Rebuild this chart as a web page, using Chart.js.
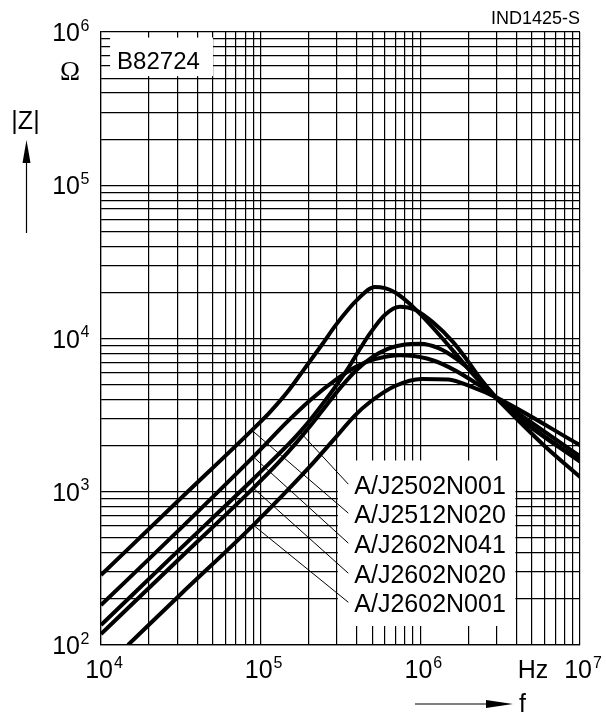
<!DOCTYPE html>
<html><head><meta charset="utf-8">
<script src="https://cdn.jsdelivr.net/npm/chart.js@4.4.1/dist/chart.umd.min.js"></script>
<style>html,body{margin:0;padding:0;background:#fff;} canvas{display:block;}</style>
</head><body>
<canvas id="c" width="606" height="715"></canvas>
<script>
// ---- data (frequency in Hz, |Z| in Ohm) ----
const freq_J2512N020 = [1e4, 3e4, 1e5, 1.14e5, 1.5e5, 1.85e5, 2.4e5, 3e5, 4e5, 5.2e5, 6e5, 7e5, 8.5e5, 1e6, 1.3e6, 1.7e6, 2.2e6, 2.94e6, 4e6, 6e6, 1e7];
const imp_J2512N020  = [286, 860, 2870, 3300, 4600, 6200, 9000, 12500, 17800, 21700, 21300, 19900, 17000, 14400, 10700, 7750, 5650, 4150, 3000, 1990, 1250];

const freq_J2602N041 = [1e4, 3.12e4, 9.21e4, 1.48e5, 2.04e5, 3.05e5, 3.9e5, 5.2e5, 7.46e5, 1.1e6, 1.497e6, 2.423e6, 2.94e6, 1e7];
const imp_J2602N041  = [182, 570, 1733, 2887, 3958, 5508, 6500, 7330, 7780, 7405, 6530, 4833, 4160, 1706];

const freq_J2502N001 = [1e4, 3.12e4, 8.99e4, 1.5e5, 1.85e5, 2.47e5, 3.46e5, 4.2e5, 4.84e5, 6.01e5, 7.46e5, 9.26e5, 1.205e6, 1.6e6, 1.95e6, 2.4e6, 2.94e6, 3.5e6, 5e6, 1e7];
const imp_J2502N001  = [135, 422, 1212, 2050, 2600, 3800, 6200, 8600, 10800, 14300, 16100, 15400, 12700, 9500, 7300, 5400, 4200, 3500, 2600, 1570];

const freq_J2602N020 = [1e4, 3.12e4, 8.99e4, 1.3e5, 1.68e5, 2.14e5, 2.6e5, 3.2e5, 4e5, 5e5, 6.3e5, 8e5, 1e6, 1.3e6, 1.7e6, 2.2e6, 2.94e6, 4e6, 6e6, 1e7];
const imp_J2602N020  = [118, 368, 1056, 1560, 2100, 2850, 3700, 4850, 6250, 7550, 8600, 9150, 9250, 8650, 7300, 5800, 4170, 3150, 2300, 1600];

const freq_J2602N001 = [1.476e4, 3.12e4, 8.99e4, 1.99e5, 2.85e5, 3.9e5, 4.84e5, 6.94e5, 1.02e6, 1.497e6, 2.097e6, 2.94e6, 1e7];
const imp_J2602N001  = [100, 212, 606, 1425, 2171, 3150, 3850, 4900, 5450, 5400, 4833, 4160, 2014];

// legend labels (top to bottom) and the frequency where each leader line touches its curve
const labelNames   = ['A/J2502N001', 'A/J2512N020', 'A/J2602N041', 'A/J2602N020', 'A/J2602N001'];
const leaderFreq   = [1.76e5, 8.79e4, 8.99e4, 8.99e4, 8.99e4];
const labelLevelZ  = [1121, 725, 462, 294, 190];
const leaderEndF   = 3.54e5;

// tick labels
const xExponents = [4, 5, 6, 7];
const yExponents = [2, 3, 4, 5, 6];

const seriesList = [
  {name:'A/J2512N020', f:freq_J2512N020, z:imp_J2512N020},
  {name:'A/J2602N041', f:freq_J2602N041, z:imp_J2602N041},
  {name:'A/J2502N001', f:freq_J2502N001, z:imp_J2502N001},
  {name:'A/J2602N020', f:freq_J2602N020, z:imp_J2602N020},
  {name:'A/J2602N001', f:freq_J2602N001, z:imp_J2602N001}
];

function decadeTicks(minE, maxE){
  const t=[];
  for(let e=minE;e<maxE;e++){ for(let k=1;k<10;k++) t.push({value:k*Math.pow(10,e)}); }
  t.push({value:Math.pow(10,maxE)});
  return t;
}
function zOnCurve(s, f){
  const lf=Math.log10(f);
  for(let i=0;i<s.f.length-1;i++){
    const a=Math.log10(s.f[i]), b=Math.log10(s.f[i+1]);
    if(lf>=a && lf<=b){
      const t=(lf-a)/(b-a);
      return Math.pow(10, Math.log10(s.z[i])*(1-t)+Math.log10(s.z[i+1])*t);
    }
  }
  return s.z[0];
}

const SANS = '"Liberation Sans", Arial, Helvetica, sans-serif';

const overlay = {
  id:'overlay',
  beforeDatasetsDraw(chart){
    const {ctx, scales:{x,y}} = chart;
    ctx.save();
    ctx.fillStyle='#fff';
    // title box
    let x0=x.getPixelForValue(1.14e4), x1=x.getPixelForValue(5.03e4);
    let y0=y.getPixelForValue(9.2e5), y1=y.getPixelForValue(5.15e5);
    ctx.fillRect(x0,y0,x1-x0,y1-y0);
    // legend box
    x0=x.getPixelForValue(3e5)+1; x1=x.getPixelForValue(4e6)-1;
    y0=y.getPixelForValue(1600); y1=y.getPixelForValue(133);
    ctx.fillRect(x0,y0,x1-x0,y1-y0);
    ctx.restore();
  },
  afterDatasetsDraw(chart){
    const {ctx, scales:{x,y}} = chart;
    ctx.save();
    ctx.fillStyle='#000'; ctx.strokeStyle='#000';
    // title text
    ctx.font='24px '+SANS; ctx.textAlign='left'; ctx.textBaseline='alphabetic';
    ctx.fillText('B82724', x.getPixelForValue(1.14e4)+7, y.getPixelForValue(9.2e5)+31);
    // leader lines and labels
    ctx.lineWidth=1;
    const ex=x.getPixelForValue(leaderEndF);
    labelNames.forEach((n,i)=>{
      const s=seriesList.find(d=>d.name===n);
      const sx=x.getPixelForValue(leaderFreq[i]);
      const sy=y.getPixelForValue(zOnCurve(s, leaderFreq[i]));
      const ey=y.getPixelForValue(labelLevelZ[i]);
      ctx.beginPath(); ctx.moveTo(sx,sy); ctx.lineTo(ex,ey); ctx.stroke();
      ctx.font='25px '+SANS; ctx.textAlign='left'; ctx.textBaseline='alphabetic';
      ctx.fillText(n, ex+6, ey+9.5);
    });
    ctx.restore();
  },
  afterDraw(chart){
    const {ctx, chartArea:ca, scales:{x,y}} = chart;
    ctx.save();
    ctx.fillStyle='#000'; ctx.strokeStyle='#000';
    ctx.textBaseline='alphabetic';
    // y tick labels
    yExponents.forEach(e=>{
      const py=y.getPixelForValue(Math.pow(10,e));
      ctx.font='25px '+SANS; ctx.textAlign='right';
      ctx.fillText('10', ca.left-21, py+9);
      ctx.font='16px '+SANS; ctx.textAlign='left';
      ctx.fillText(String(e), ca.left-20.5, py-1.5);
    });
    // x tick labels
    xExponents.forEach(e=>{
      const px=x.getPixelForValue(Math.pow(10,e));
      ctx.font='25px '+SANS; const w1=ctx.measureText('10').width;
      ctx.font='16px '+SANS; const w2=ctx.measureText(String(e)).width;
      const start=px-(w1+w2+1)/2+3;
      ctx.font='25px '+SANS; ctx.textAlign='left';
      ctx.fillText('10', start, ca.bottom+33);
      ctx.font='16px '+SANS;
      ctx.fillText(String(e), start+w1+1, ca.bottom+23);
    });
    // unit Hz
    ctx.font='25px '+SANS; ctx.textAlign='center';
    ctx.fillText('Hz', x.getPixelForValue(5e6)+1, ca.bottom+33);
    // f arrow
    ctx.lineWidth=1.2;
    ctx.beginPath(); ctx.moveTo(415,704); ctx.lineTo(490,704); ctx.stroke();
    ctx.beginPath(); ctx.moveTo(513,704); ctx.lineTo(486,700); ctx.lineTo(486,708); ctx.closePath(); ctx.fill();
    ctx.font='25px '+SANS; ctx.textAlign='left';
    ctx.fillText('f', 519, 712);
    // y axis label
    ctx.textAlign='center';
    ctx.fillText('|Z|', 25.5, 129);
    ctx.beginPath(); ctx.moveTo(26.5,233); ctx.lineTo(26.5,158); ctx.stroke();
    ctx.beginPath(); ctx.moveTo(26.5,140); ctx.lineTo(22.5,163); ctx.lineTo(30.5,163); ctx.closePath(); ctx.fill();
    ctx.font='27px "Liberation Serif", "DejaVu Serif", serif';
    ctx.fillText('\u03A9', 70, 80);
    // document id
    ctx.font='18px '+SANS; ctx.textAlign='right';
    ctx.fillText('IND1425-S', ca.right, 24);
    ctx.restore();
  }
};

const gridOpts = {color:'#000', lineWidth:1.2, drawTicks:false};
new Chart(document.getElementById('c'), {
  type:'scatter',
  data:{
    datasets: seriesList.map(s=>({
      label:s.name,
      data:s.f.map((f,i)=>({x:f, y:s.z[i]})),
      showLine:true,
      borderColor:'#000',
      borderWidth:4,
      pointRadius:0,
      cubicInterpolationMode:'monotone',
      fill:false
    }))
  },
  options:{
    responsive:false,
    animation:false,
    devicePixelRatio:1,
    layout:{padding:{left:101, top:32, right:26, bottom:70}},
    plugins:{legend:{display:false}, tooltip:{enabled:false}},
    scales:{
      x:{type:'logarithmic', min:1e4, max:1e7,
         afterBuildTicks:s=>{s.ticks=decadeTicks(4,7);},
         ticks:{display:false}, grid:gridOpts, border:{color:'#000', width:1.2}},
      y:{type:'logarithmic', min:1e2, max:1e6,
         afterBuildTicks:s=>{s.ticks=decadeTicks(2,6);},
         ticks:{display:false}, grid:gridOpts, border:{color:'#000', width:1.2}}
    }
  },
  plugins:[overlay]
});
</script>
</body></html>
